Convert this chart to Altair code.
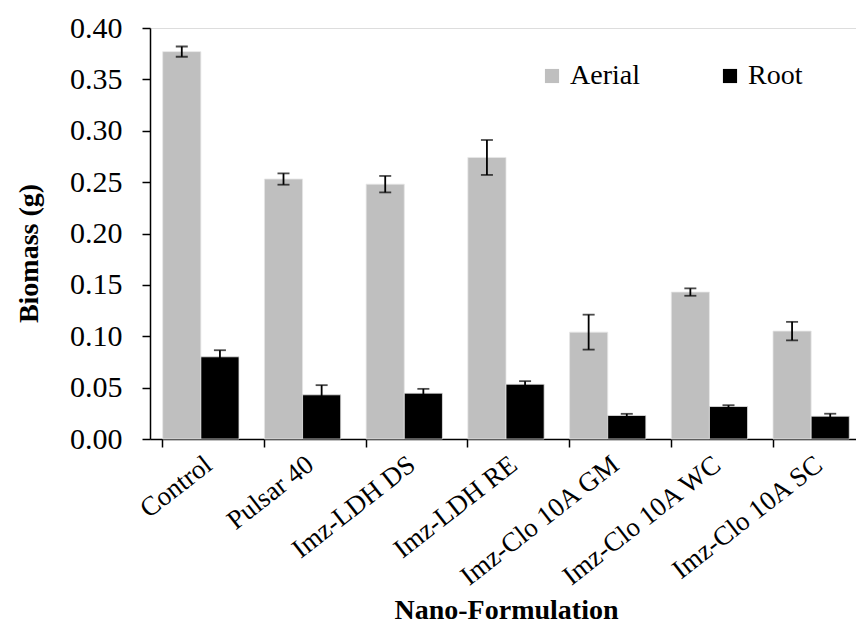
import altair as alt
import pandas as pd

categories = ["Control", "Pulsar 40", "Imz-LDH DS", "Imz-LDH RE",
              "Imz-Clo 10A GM", "Imz-Clo 10A WC", "Imz-Clo 10A SC"]
series = ["Aerial", "Root"]
aerial = [0.377, 0.253, 0.248, 0.274, 0.104, 0.143, 0.105]
aerial_err = [0.005, 0.0055, 0.008, 0.017, 0.017, 0.0036, 0.009]
root = [0.080, 0.043, 0.0446, 0.0533, 0.0229, 0.0316, 0.0222]
root_err = [0.0064, 0.0094, 0.0042, 0.003, 0.0016, 0.0013, 0.0024]
y_ticks = [0.0, 0.05, 0.10, 0.15, 0.20, 0.25, 0.30, 0.35, 0.40]

rows = []
for i, c in enumerate(categories):
    rows.append({"cat": c, "type": "Aerial", "val": aerial[i],
                 "lo": aerial[i] - aerial_err[i], "hi": aerial[i] + aerial_err[i]})
    rows.append({"cat": c, "type": "Root", "val": root[i],
                 "lo": root[i] - root_err[i], "hi": root[i] + root_err[i]})
df = pd.DataFrame(rows)

FONT = "Liberation Serif"
W = 706
RANGE = 712

x = alt.X("cat:N", sort=categories, title="Nano-Formulation",
          scale=alt.Scale(range=[0, RANGE], paddingInner=0.25, paddingOuter=0.125),
          axis=alt.Axis(labelAngle=-38, labelFont=FONT, labelFontSize=27,
                        labelColor="black", labelLimit=0, titleFont=FONT,
                        titleFontSize=28, titleFontWeight="bold", titleColor="black",
                        domainColor="black", domainWidth=1.5, tickColor="black",
                        tickWidth=1.5, tickSize=8, bandPosition=0,
                        labelPadding=4, titleX=RANGE / 2, titleY=179,
                        titleBaseline="alphabetic"))
xo = alt.XOffset("type:N", sort=series)
y_scale = alt.Scale(domain=[0, 0.4], nice=False)

bars = alt.Chart(df).mark_bar(stroke="#e6e6e6", strokeWidth=0.8).encode(
    x=x, xOffset=xo,
    y=alt.Y("val:Q", scale=y_scale, title="Biomass (g)",
            axis=alt.Axis(values=y_ticks, format=".2f", labelFont=FONT,
                          labelFontSize=30, labelColor="black", titleFont=FONT,
                          titleFontSize=28, titleFontWeight="bold",
                          titleColor="black", domainColor="black",
                          domainWidth=1.5, tickColor="black", tickWidth=1.5,
                          tickSize=8, labelPadding=20, grid=False,
                          titlePadding=26, titleY=225)),
    color=alt.Color("type:N", sort=series,
                    scale=alt.Scale(domain=series, range=["#bfbfbf", "#000000"]),
                    legend=alt.Legend(title=None, orient="none", direction="horizontal",
                                      legendX=388, legendY=34, symbolType="square",
                                      symbolSize=200, symbolStrokeWidth=0,
                                      labelFont=FONT, labelFontSize=28,
                                      labelColor="black", columnPadding=76,
                                      labelOffset=4)),
)

rules = alt.Chart(df).mark_rule(color="black", strokeWidth=1.8).encode(
    x=alt.X("cat:N", sort=categories), xOffset=xo,
    y=alt.Y("lo:Q", scale=y_scale), y2="hi:Q")
cap_lo = alt.Chart(df).mark_tick(color="black", size=12, thickness=1.8).encode(
    x=alt.X("cat:N", sort=categories), xOffset=xo,
    y=alt.Y("lo:Q", scale=y_scale))
cap_hi = alt.Chart(df).mark_tick(color="black", size=12, thickness=1.8).encode(
    x=alt.X("cat:N", sort=categories), xOffset=xo,
    y=alt.Y("hi:Q", scale=y_scale))

chart = alt.layer(bars, rules, cap_lo, cap_hi).properties(
    width=W, height=411,
    autosize=alt.AutoSizeParams(type="none"),
    padding={"left": 150, "top": 28, "right": 0, "bottom": 190},
).configure_view(stroke=None).configure(background="white")

chart.save("out.html", embed_options={"renderer": "svg", "actions": False})
